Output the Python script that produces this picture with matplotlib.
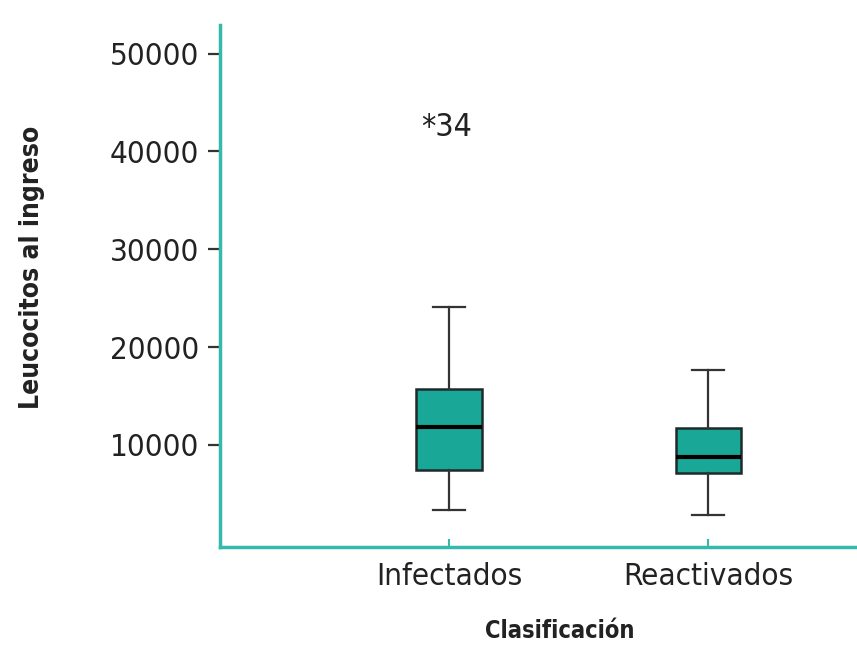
import matplotlib.pyplot as plt

grupos = ["Infectados", "Reactivados"]
q1 = [7450, 7170]
mediana = [11800, 8740]
q3 = [15700, 11700]
bigote_inf = [3350, 2850]
bigote_sup = [24100, 17700]
atipico_valor = 42500
atipico_caso = "34"

plt.rcParams['font.family'] = ['DejaVu Sans']
plt.rcParams['font.stretch'] = 'condensed'

teal = '#19a898'
teal_eje = '#35b9aa'

fig = plt.figure(figsize=(8.57, 6.48), dpi=100)
ax = fig.add_axes([0.2567, 0.156, 0.7433, 0.805])

stats = []
for i in range(len(grupos)):
    stats.append({'label': grupos[i], 'q1': q1[i], 'med': mediana[i], 'q3': q3[i],
                  'whislo': bigote_inf[i], 'whishi': bigote_sup[i], 'fliers': []})

ax.bxp(stats, positions=[1, 2], widths=0.251, capwidths=0.127, patch_artist=True,
       boxprops=dict(facecolor=teal, edgecolor='#1f2a2a', linewidth=1.8),
       medianprops=dict(color='black', linewidth=3),
       whiskerprops=dict(color='#333333', linewidth=1.6),
       capprops=dict(color='#333333', linewidth=1.6))

# caso atípico
ax.text(0.99, atipico_valor, "*" + atipico_caso, ha='center', va='center',
        fontsize=23, color='#222222')

ax.set_xlim(0.116, 2.575)
ax.set_ylim(-420, 52900)
ax.set_yticks([10000, 20000, 30000, 40000, 50000])

for lado in ['top', 'right']:
    ax.spines[lado].set_visible(False)
for lado in ['left', 'bottom']:
    ax.spines[lado].set_color(teal_eje)
    ax.spines[lado].set_linewidth(2.5)

ax.tick_params(axis='y', direction='out', length=9, width=1.6, color='#333333',
               labelsize=22.5, labelcolor='#222222', pad=6)
ax.tick_params(axis='x', direction='in', length=6, width=1.5, color=teal_eje,
               labelsize=22.5, labelcolor='#222222', pad=11)

ax.set_xlabel("Clasificación", fontsize=17, fontweight='bold', color='#222222')
ax.xaxis.set_label_coords(0.534, -0.138)
ax.set_ylabel("Leucocitos al ingreso", fontsize=19, fontweight='bold', color='#222222')
ax.yaxis.set_label_coords(-0.275, 0.535)

plt.savefig("out.png", dpi=100)
